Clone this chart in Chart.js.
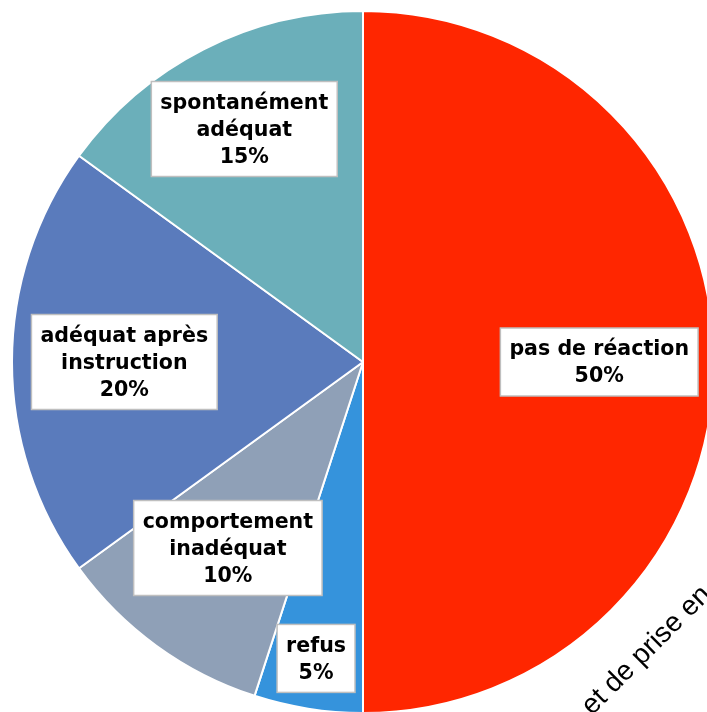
<!DOCTYPE html>
<html>
<head>
<meta charset="utf-8">
<script src="https://cdn.jsdelivr.net/npm/chart.js@4/dist/chart.umd.min.js"></script>
<style>
  html, body { margin: 0; padding: 0; background: #ffffff; overflow: hidden; width: 707px; height: 712px; }
  #wrap { position: absolute; left: 11px; top: 10px; width: 704px; height: 704px; }
</style>
</head>
<body>
<div id="wrap"><canvas id="c"></canvas></div>
<script>
// ---- data ----
const categories = ['pas de réaction', 'refus', 'comportement inadéquat', 'adéquat après instruction', 'spontanément adéquat'];
const categoryLines = [['pas de réaction'], ['refus'], ['comportement', 'inadéquat'], ['adéquat après', 'instruction'], ['spontanément', 'adéquat']];
const values = [50, 5, 10, 20, 15];
const sliceColors = ['#FF2600', '#3593DC', '#8FA0B7', '#5A7BBC', '#6BAFBA'];
const labelRadius = [0.673, 0.855, 0.655, 0.68, 0.745];
const sideText = 'et de prise en';

const labelPlugin = {
  id: 'boxLabels',
  afterDatasetsDraw(chart) {
    const ctx = chart.ctx;
    const meta = chart.getDatasetMeta(0);
    const total = values.reduce((a, b) => a + b, 0);
    const sx = 0.935;
    ctx.save();
    ctx.font = 'bold 22px "DejaVu Sans"';
    ctx.textAlign = 'center';
    ctx.textBaseline = 'middle';
    const lineH = 27, padX = 9, padY = 7;
    meta.data.forEach((arc, i) => {
      const p = arc.getProps(['x', 'y', 'startAngle', 'endAngle', 'outerRadius'], true);
      const mid = (p.startAngle + p.endAngle) / 2;
      const r = p.outerRadius * labelRadius[i];
      const cx = p.x + Math.cos(mid) * r;
      const cy = p.y + Math.sin(mid) * r;
      const lines = categoryLines[i].concat([Math.round(values[i] / total * 100) + '%']);
      let w = 0;
      lines.forEach(l => { w = Math.max(w, ctx.measureText(l).width * sx); });
      const bw = w + padX * 2, bh = lines.length * lineH + padY * 2;
      ctx.fillStyle = '#ffffff';
      ctx.fillRect(cx - bw / 2, cy - bh / 2, bw, bh);
      ctx.strokeStyle = '#BFBFBF';
      ctx.lineWidth = 1.5;
      ctx.strokeRect(cx - bw / 2, cy - bh / 2, bw, bh);
      ctx.fillStyle = '#000000';
      lines.forEach((l, k) => {
        ctx.save();
        ctx.translate(cx, cy - bh / 2 + padY + lineH * (k + 0.5) + 1);
        ctx.scale(sx, 1);
        ctx.fillText(l, 0, 0);
        ctx.restore();
      });
    });
    ctx.restore();
  },
  afterDraw(chart) {
    const ctx = chart.ctx;
    ctx.save();
    ctx.translate(592 - 11, 716 - 10);
    ctx.rotate(-45 * Math.PI / 180);
    ctx.font = '28px "Liberation Sans"';
    ctx.fillStyle = '#000000';
    ctx.textAlign = 'left';
    ctx.textBaseline = 'alphabetic';
    ctx.fillText(sideText, 0, 0);
    ctx.restore();
  }
};

new Chart(document.getElementById('c'), {
  type: 'pie',
  data: {
    labels: categories,
    datasets: [{
      data: values,
      backgroundColor: sliceColors,
      borderColor: '#ffffff',
      borderWidth: 2
    }]
  },
  options: {
    responsive: true,
    maintainAspectRatio: false,
    animation: false,
    layout: { padding: 0 },
    plugins: { legend: { display: false }, tooltip: { enabled: false } }
  },
  plugins: [labelPlugin]
});
</script>
</body>
</html>
